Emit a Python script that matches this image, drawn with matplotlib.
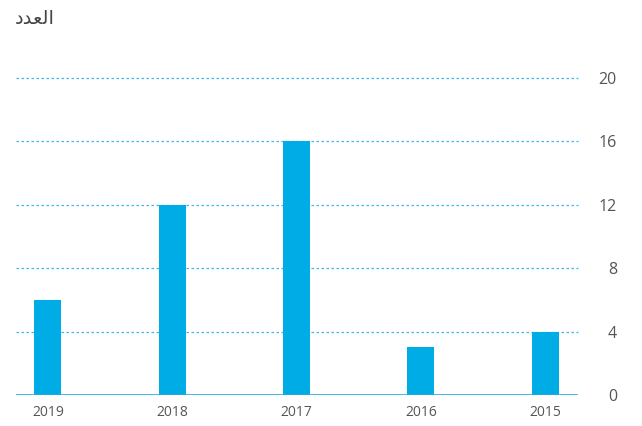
import matplotlib
matplotlib.use("Agg")
import matplotlib.pyplot as plt

years = ["2019", "2018", "2017", "2016", "2015"]
counts = [6, 12, 16, 3, 4]
yticks = [0, 4, 8, 12, 16, 20]
# "العدد" written in Arabic presentation forms (visual order) so it renders joined
ylabel_text = "\uFEA9\uFEAA\uFECC\uFEDF\uFE8D"

bar_color = "#00ACE6"
grid_color = "#3DB8E5"
text_color = "#555555"

fig = plt.figure(figsize=(6.42, 4.26), dpi=100)
ax = fig.add_axes([16/642, 1-395/426, (578-16)/642, (395-78)/426])

x = list(range(len(years)))
ax.bar(x, counts, width=0.217, color=bar_color, zorder=3)

ax.set_xlim(-0.257, 4.265)
ax.set_ylim(0, 20)
ax.set_xticks(x)
ax.set_xticklabels(years, fontsize=10, color=text_color, family="Open Sans")
ax.set_yticks(yticks)
ax.yaxis.tick_right()
ax.set_yticklabels([str(v) for v in yticks], fontsize=11.5, color=text_color,
                   family="Open Sans", ha="right")
ax.tick_params(axis="y", length=0, pad=28)
ax.tick_params(axis="x", length=0, pad=7.5)

for v in yticks[1:]:
    ax.axhline(v, color=grid_color, lw=0.9, ls=(0, (2, 2)), zorder=1, clip_on=False)
ax.axhline(0, color="#29A9E0", lw=1.2, zorder=4)

for s in ax.spines.values():
    s.set_visible(False)

fig.text(15/642, 1-18/426, ylabel_text, fontsize=14, color="#444444",
         family="DejaVu Sans", ha="left", va="center")

fig.savefig("out.png", dpi=100)
